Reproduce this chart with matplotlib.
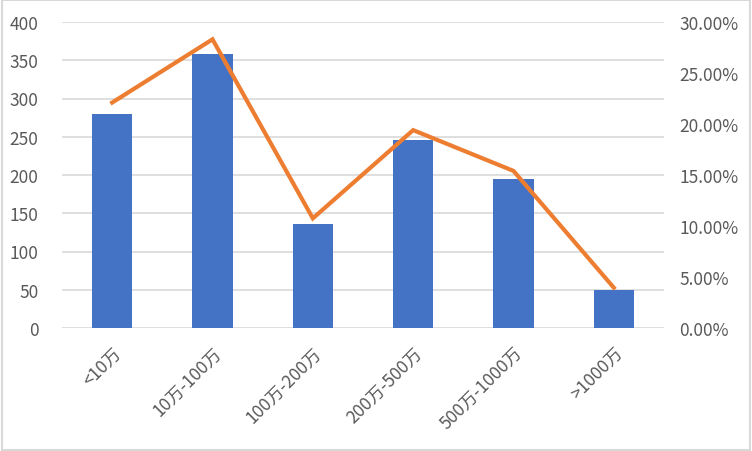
import matplotlib
matplotlib.use("Agg")
import matplotlib.pyplot as plt
from matplotlib.ticker import FuncFormatter
from matplotlib.patches import Rectangle

plt.rcParams['font.family'] = ['Noto Sans CJK SC', 'DejaVu Sans']

# data
categories = ["<10万", "10万-100万", "100万-200万", "200万-500万", "500万-1000万", ">1000万"]
counts = [280, 358, 136, 246, 195, 50]
shares = [0.221, 0.283, 0.1075, 0.194, 0.154, 0.0395]

bar_color = "#4472C4"
line_color = "#ED7D31"
text_color = "#595959"
grid_color = "#D9D9D9"

fig = plt.figure(figsize=(7.52, 4.52), dpi=100)
ax = fig.add_axes([62 / 752, 1 - 329 / 452, 602 / 752, 306 / 452])
x = list(range(len(categories)))

ax.bar(x, counts, width=0.4, color=bar_color, zorder=2)
ax.set_xlim(-0.5, len(categories) - 0.5)
ax.set_ylim(0, 400)
ax.set_yticks(range(0, 401, 50))
ax.grid(axis="y", color=grid_color, linewidth=1.2, zorder=0)
ax.set_axisbelow(True)
for s in ax.spines.values():
    s.set_visible(False)
ax.tick_params(axis="both", length=0, labelsize=12.5, labelcolor=text_color)
ax.tick_params(axis="y", pad=17)
ax.set_xticks(x)
ax.set_xticklabels(categories, rotation=45, ha="right", rotation_mode="anchor")
ax.tick_params(axis="x", pad=11)

ax2 = ax.twinx()
ax2.plot(x, shares, color=line_color, linewidth=3, solid_joinstyle="miter", zorder=3)
ax2.set_ylim(0, 0.30)
ax2.set_yticks([0, 0.05, 0.10, 0.15, 0.20, 0.25, 0.30])
ax2.yaxis.set_major_formatter(FuncFormatter(lambda v, p: f"{v * 100:.2f}%"))
for s in ax2.spines.values():
    s.set_visible(False)
ax2.tick_params(axis="y", length=0, labelsize=12.5, labelcolor=text_color, pad=11)

# light frame around the chart
fig.patches.append(Rectangle((0.002, 0.003), 0.995, 0.994, transform=fig.transFigure,
                             fill=False, edgecolor=grid_color, linewidth=1.5))

fig.savefig("out.png", dpi=100)
